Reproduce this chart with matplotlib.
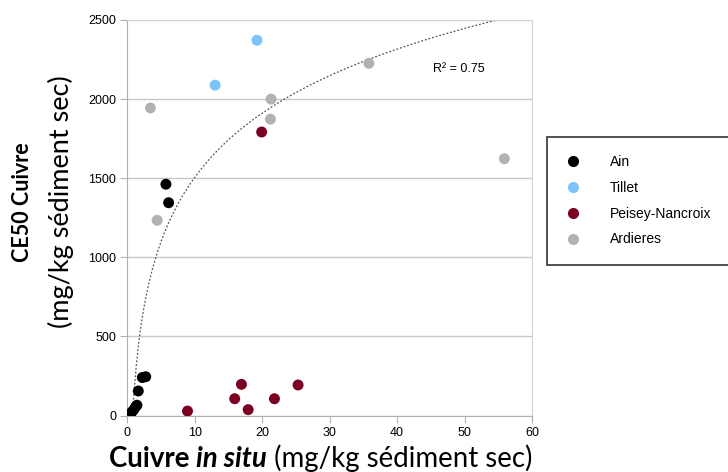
import numpy as np
import matplotlib
matplotlib.use('Agg')
import matplotlib.pyplot as plt
from matplotlib.lines import Line2D

# donnees
ain_x = [0.6, 0.9, 1.2, 1.4, 1.6, 2.2, 2.7, 5.7, 6.1]
ain_y = [20, 35, 55, 65, 155, 240, 245, 1462, 1345]
tillet_x = [13.0, 19.2]
tillet_y = [2088, 2372]
peisey_x = [8.9, 15.9, 16.9, 17.9, 19.9, 21.8, 25.3]
peisey_y = [28, 106, 197, 37, 1792, 106, 193]
ardieres_x = [3.4, 4.4, 21.3, 21.2, 35.8, 55.9]
ardieres_y = [1944, 1234, 2000, 1873, 2226, 1623]

# courbe de tendance logarithmique (y = a ln x + b)
trend_a = 584
trend_b = 162
trend_r2 = 0.75

series = [
    ('Ain', ain_x, ain_y, '#000000'),
    ('Tillet', tillet_x, tillet_y, '#7cc4fa'),
    ('Peisey-Nancroix', peisey_x, peisey_y, '#7b0022'),
    ('Ardieres', ardieres_x, ardieres_y, '#b2b2b2'),
]

tick_font = ['Liberation Sans', 'DejaVu Sans']
label_font = ['Lato', 'DejaVu Sans']

W, H = 728, 472
fig = plt.figure(figsize=(W / 100, H / 100), dpi=100)
ax = fig.add_axes([127.5 / W, 1 - 415.5 / H, (532 - 127.5) / W, (415.5 - 20) / H])

for name, xs, ys, col in series:
    ax.scatter(xs, ys, s=62, c=col, edgecolors='none', zorder=3, label=name)

xt = np.linspace(0.6, 56, 400)
ax.plot(xt, trend_a * np.log(xt) + trend_b, ls=(0, (1.5, 1.5)), color='#555555', lw=0.9, zorder=2)

ax.text(45.3, 2193, 'R² = %.2f' % trend_r2, fontsize=9, family=tick_font, va='center', ha='left')

ax.set_xlim(0, 60)
ax.set_ylim(0, 2500)
ax.set_xticks(range(0, 61, 10))
ax.set_yticks(range(0, 2501, 500))
ax.yaxis.grid(True, color='#c8c8c8', lw=1)
ax.set_axisbelow(True)
for s in ['left', 'bottom']:
    ax.spines[s].set_color('#b0b0b0')
for s in ['top', 'right']:
    ax.spines[s].set_color('#d4d4d4')
ax.tick_params(axis='both', direction='out', length=5, color='#b0b0b0', labelsize=9, pad=3)
for lab in ax.get_xticklabels() + ax.get_yticklabels():
    lab.set_family(tick_font)

# legende
handles = [Line2D([], [], ls='none', marker='o', ms=8, mfc=c, mec='none') for _, _, _, c in series]
leg = fig.legend(handles, [s[0] for s in series], loc='upper left',
                 bbox_to_anchor=(547 / W, 1 - 137 / H), frameon=True, fancybox=False,
                 prop={'family': tick_font, 'size': 10}, labelspacing=0.85,
                 handletextpad=2.1, borderpad=1.3, handlelength=1.15, borderaxespad=0)
leg.get_frame().set_edgecolor('black')
leg.get_frame().set_linewidth(1.2)

# titre de l'axe y
fig.text(23 / W, 1 - 202 / H, 'CE50 Cuivre', rotation=90, ha='center', va='center',
         family=label_font, fontweight='bold', fontsize=15.5)
fig.text(61 / W, 1 - 202 / H, '(mg/kg sédiment sec)', rotation=90, ha='center', va='center',
         family=label_font, fontsize=19.5)

# titre de l'axe x, en plusieurs morceaux
renderer = fig.canvas.get_renderer()
pieces = [('Cuivre ', 'bold', 'normal'), ('in situ', 'bold', 'italic'), (' (mg/kg sédiment sec)', 'normal', 'normal')]
xpos = 109
for txt, wgt, sty in pieces:
    t = fig.text(xpos / W, 1 - 467 / H, txt, ha='left', va='baseline', family=label_font,
                 fontweight=wgt, fontstyle=sty, fontsize=19.9)
    xpos = t.get_window_extent(renderer).x1

plt.savefig('out.png', dpi=100)
